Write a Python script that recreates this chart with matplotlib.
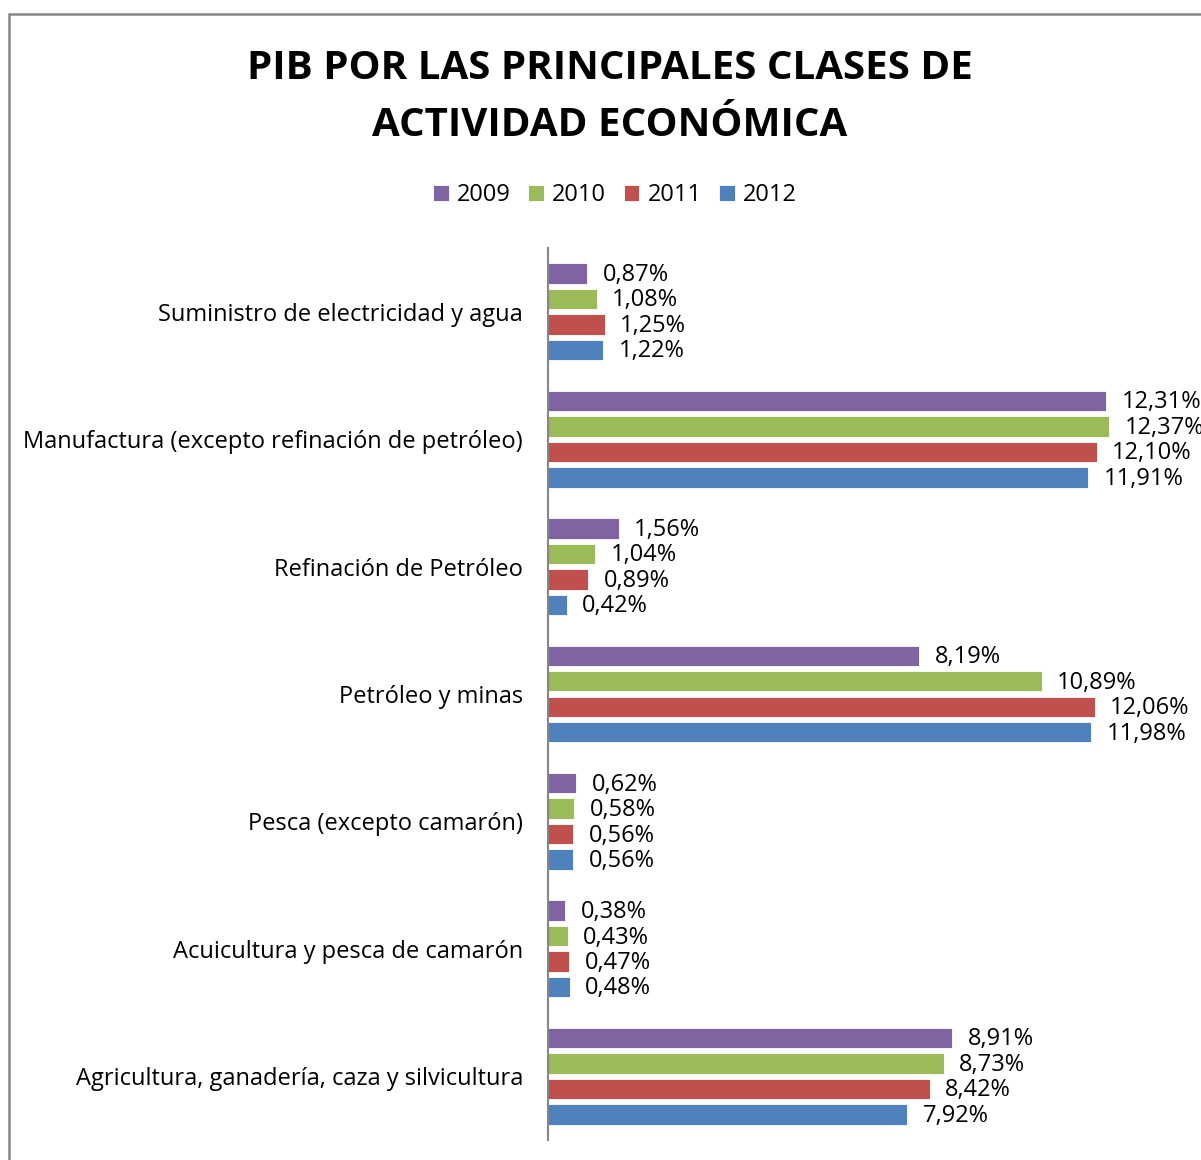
import matplotlib
matplotlib.use("Agg")
import matplotlib.pyplot as plt
from matplotlib.patches import Rectangle
import numpy as np

categories = [
    "Suministro de electricidad y agua",
    "Manufactura (excepto refinación de petróleo)",
    "Refinación de Petróleo",
    "Petróleo y minas",
    "Pesca (excepto camarón)",
    "Acuicultura y pesca de camarón",
    "Agricultura, ganadería, caza y silvicultura",
]
years = ["2009", "2010", "2011", "2012"]
v2009 = [0.87, 12.31, 1.56, 8.19, 0.62, 0.38, 8.91]
v2010 = [1.08, 12.37, 1.04, 10.89, 0.58, 0.43, 8.73]
v2011 = [1.25, 12.10, 0.89, 12.06, 0.56, 0.47, 8.42]
v2012 = [1.22, 11.91, 0.42, 11.98, 0.56, 0.48, 7.92]
series = [v2009, v2010, v2011, v2012]
colors = ["#8064A2", "#9BBB59", "#C0504D", "#4F81BD"]

plt.rcParams['font.family'] = ['Open Sans', 'DejaVu Sans']

W, H = 1201, 1160
fig = plt.figure(figsize=(W / 100, H / 100), dpi=100)

# frame
fig.patches.append(Rectangle((9 / W, -0.05), 1.2, 1 - 14 / H + 0.05,
                             transform=fig.transFigure, fill=False,
                             edgecolor="#868686", linewidth=1.8))

ax_left, ax_right = 548, 1183
ax_top, ax_bottom = 248, 1140
ax = fig.add_axes([ax_left / W, 1 - ax_bottom / H, (ax_right - ax_left) / W, (ax_bottom - ax_top) / H])

n = len(categories)
y = np.arange(n)
pitch = 0.2
bh = 0.16
for i, (vals, c, yr) in enumerate(zip(series, colors, years)):
    pos = y + (i - 1.5) * pitch
    ax.barh(pos, vals, height=bh, color=c, edgecolor="white", linewidth=0.6, label=yr)
    for p, v in zip(pos, vals):
        ax.annotate(f"{v:.2f}%".replace(".", ","), (v, p), xytext=(11, -1),
                    textcoords="offset points", va="center", ha="left",
                    fontsize=17, color="black", annotation_clip=False)

ax.set_ylim(n - 0.5, -0.5)
ax.set_xlim(0, 14)
ax.set_yticks(y)
ax.set_yticklabels(categories, fontsize=17)
ax.tick_params(axis="y", length=0, pad=18)
ax.set_xticks([])
for s in ["top", "right", "bottom"]:
    ax.spines[s].set_visible(False)
ax.spines["left"].set_color("#868686")
ax.spines["left"].set_linewidth(1.5)

fig.text(610 / W, 1 - 97 / H, "PIB POR LAS PRINCIPALES CLASES DE\nACTIVIDAD ECONÓMICA",
         ha="center", va="center", fontsize=29, fontweight="bold", linespacing=1.62)

handles, labels = ax.get_legend_handles_labels()
fig.legend(handles, labels, loc="center", bbox_to_anchor=(615 / W, 1 - 195 / H), ncol=4,
           frameon=False, fontsize=17, handlelength=0.65, handleheight=0.65,
           handletextpad=0.35, columnspacing=0.75)

fig.savefig("out.png", dpi=100)
